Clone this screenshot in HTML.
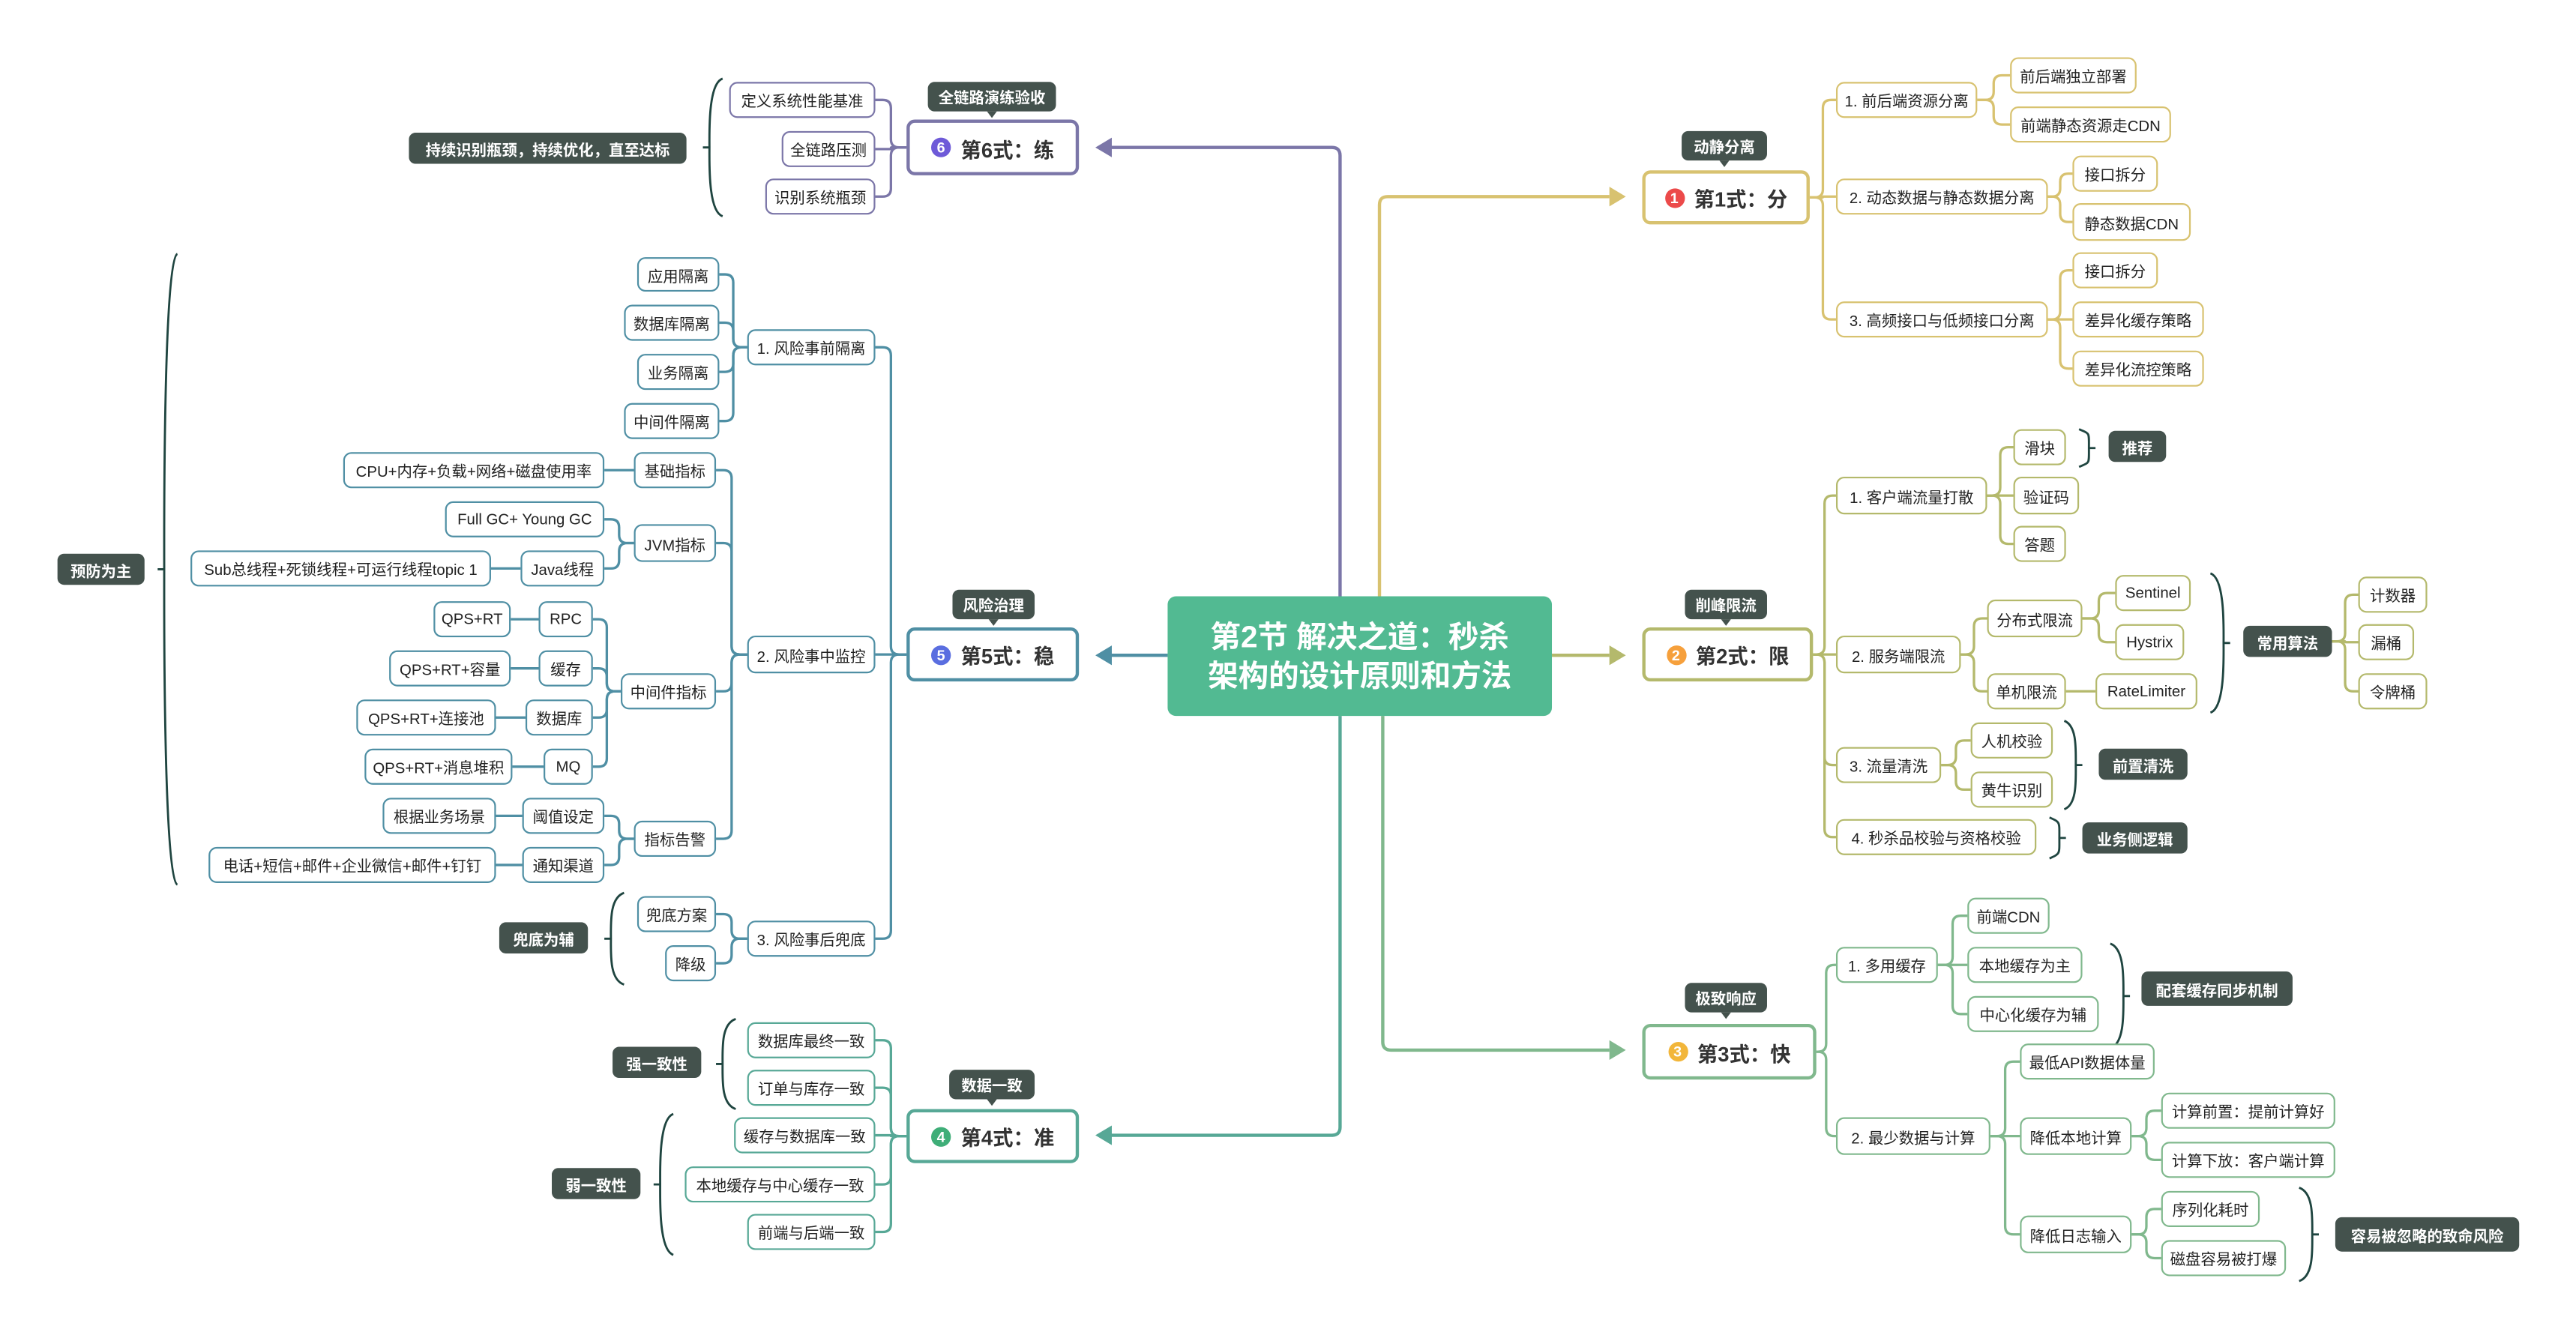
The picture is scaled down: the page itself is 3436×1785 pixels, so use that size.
<!DOCTYPE html>
<html><head><meta charset="utf-8">
<style>
html,body{margin:0;padding:0;background:#fff;width:3436px;height:1785px;overflow:hidden}
#w{position:absolute;left:0;top:0;width:1560px;height:810px;transform:scale(2.1905,2.1855);transform-origin:0 0;font-family:"Liberation Sans","Noto Sans CJK SC",sans-serif}
svg{position:absolute;left:0;top:0}
.n{position:absolute;box-sizing:border-box;border:1.4px solid;border-radius:5px;background:#fff;display:flex;align-items:center;justify-content:center;font-size:9.3px;color:#222;white-space:nowrap}
.l{position:absolute;box-sizing:border-box;border-radius:4px;background:#44524d;color:#fff;font-weight:bold;display:flex;align-items:center;justify-content:center;font-size:9.3px;white-space:nowrap}
.b:after{content:"";position:absolute;left:50%;bottom:-4px;margin-left:-3px;border-left:3px solid transparent;border-right:3px solid transparent;border-top:4px solid #44524d}
.t{font-size:12.5px;font-weight:bold;border-width:2px;color:#333}
.ic{display:inline-block;width:12px;height:12px;border-radius:50%;color:#fff;font-size:9px;line-height:12px;text-align:center;margin-right:6px;font-weight:bold}
#c{position:absolute;left:711px;top:364px;width:234px;height:73px;background:#52ba92;border-radius:5px;color:#fff;font-weight:bold;font-size:18.5px;line-height:24px;text-align:center;display:flex;align-items:center;justify-content:center}
</style></head><body>
<div id="w">
<svg id="s" width="1560" height="810" viewBox="0 0 1560 810"></svg>
<div id="c"><div>第2节 解决之道：秒杀<br>架构的设计原则和方法</div></div>
</div>
<script>
var W=document.getElementById('w'),S=document.getElementById('s'),svg='';
var N={};
function node(id,x1,y1,x2,y2,t,col,p,cls){N[id]={x1:x1,y1:y1,x2:x2,y2:y2,c:col};
 var d=document.createElement('div');d.className=cls||'n';d.style.cssText='left:'+x1+'px;top:'+y1+'px;width:'+(x2-x1)+'px;height:'+(y2-y1)+'px;border-color:'+col;d.innerHTML=t;W.appendChild(d);
 if(p)link(p,id,col);}
function lab(id,x1,y1,x2,y2,t,b){N[id]={x1:x1,y1:y1,x2:x2,y2:y2};var d=document.createElement('div');d.className='l'+(b?' b':'');d.style.cssText='left:'+x1+'px;top:'+y1+'px;width:'+(x2-x1)+'px;height:'+(y2-y1)+'px';d.innerHTML=t;W.appendChild(d);}
function link(p,c,col){p=N[p];c=N[c];var ay=(p.y1+p.y2)/2,by=(c.y1+c.y2)/2,ax,bx,sx;
 if(c.x1>=p.x2){ax=p.x2;bx=c.x1;}else{ax=p.x1;bx=c.x2;}
 sx=ax+(bx-ax)/2; var dx=bx>ax?1:-1,dy=by>ay?1:-1,r=Math.min(5,Math.abs(by-ay)/2);
 var d=Math.abs(by-ay)<0.5?('M'+ax+','+ay+'H'+bx):('M'+ax+','+ay+'H'+(sx-dx*r)+'Q'+sx+','+ay+' '+sx+','+(ay+dy*r)+'V'+(by-dy*r)+'Q'+sx+','+by+' '+(sx+dx*r)+','+by+'H'+bx);
 svg+='<path d="'+d+'" fill="none" stroke="'+col+'" stroke-width="1.5"/>';}
function brace(x,y1,y2,w){var m=(y1+y2)/2;var s=w>0?1:-1;
 svg+='<path d="M'+x+','+y1+'C'+(x+w*1.1)+','+(y1+3)+' '+(x+w)+','+(m-10)+' '+(x+w)+','+m+'M'+x+','+y2+'C'+(x+w*1.1)+','+(y2-3)+' '+(x+w)+','+(m+10)+' '+(x+w)+','+m+'h'+(s*4)+'" fill="none" stroke="#1f4540" stroke-width="1.3"/>';}
function main(d,col,tip,dir){svg+='<path d="'+d+'" fill="none" stroke="'+col+'" stroke-width="2"/>';
 svg+='<path d="M'+tip+' l'+(-dir*10)+',-6 v12z" fill="'+col+'"/>';}
function topic(id,x1,y1,x2,y2,num,nc,t,col){node(id,x1,y1,x2,y2,'<span class="ic" style="background:'+nc+'">'+num+'</span>'+t,col,null,'n t');}

var G='#d8c270',O='#b4b96c',GR='#80b88d',TE='#57a896',BL='#4f8fa4',PU='#7b76a8';
main('M840,364V125Q840,120 845,120H980',G,'990,120',1);
main('M945,400H980',O,'990,400',1);
main('M842,437V636Q842,641 847,641H980',GR,'990,641',1);
main('M816,437V688Q816,693 811,693H676',TE,'667,693',-1);
main('M711,400H676',BL,'667,400',-1);
main('M816,364V95Q816,90 811,90H676',PU,'667,90',-1);

topic('A',1000,104,1102,137,'1','#ec4a4a','第1式：分',G);
topic('B',1000,383,1104,416,'2','#f6a03c','第2式：限',O);
topic('C',1000,625,1106,659,'3','#f2b63a','第3式：快',GR);
topic('D',552,677,657,710,'4','#3fae78','第4式：准',TE);
topic('E',552,383,657,416,'5','#5a6ee0','第5式：稳',BL);
topic('F',552,73,657,107,'6','#6e5ad8','第6式：练',PU);
lab('a0',1024,80,1076,98,'动静分离',1);
lab('b0',1026,360,1076,378,'削峰限流',1);
lab('c0',1026,600,1076,618,'极致响应',1);
lab('d0',578,653,630,671,'数据一致',1);
lab('e0',580,360,630,378,'风险治理',1);
lab('f0',565,50,643,68,'全链路演练验收',1);

node('a1',1118,50,1204,72,'1. 前后端资源分离',G,'A');
node('a11',1224,35,1301,57,'前后端独立部署',G,'a1');
node('a12',1224,65,1322,87,'前端静态资源走CDN',G,'a1');
node('a2',1118,109,1247,131,'2. 动态数据与静态数据分离',G,'A');
node('a21',1262,95,1314,117,'接口拆分',G,'a2');
node('a22',1262,124,1334,147,'静态数据CDN',G,'a2');
node('a3',1118,184,1247,206,'3. 高频接口与低频接口分离',G,'A');
node('a31',1262,154,1314,176,'接口拆分',G,'a3');
node('a32',1262,184,1342,206,'差异化缓存策略',G,'a3');
node('a33',1262,214,1342,236,'差异化流控策略',G,'a3');
node('b1',1118,291,1210,314,'1. 客户端流量打散',O,'B');
node('b11',1226,262,1258,284,'滑块',O,'b1');
node('b12',1226,291,1266,314,'验证码',O,'b1');
node('b13',1226,321,1258,343,'答题',O,'b1');
brace(1266,262,285,6);lab('bl1',1284,263,1319,282,'推荐');
node('b2',1118,388,1194,411,'2. 服务端限流',O,'B');
node('b21',1210,366,1268,389,'分布式限流',O,'b2');
node('b22',1210,411,1258,433,'单机限流',O,'b2');
node('b211',1288,351,1334,373,'Sentinel',O,'b21');
node('b212',1288,381,1330,403,'Hystrix',O,'b21');
node('b221',1276,411,1338,433,'RateLimiter',O,'b22');
brace(1346,350,435,8);lab('bl2',1366,382,1420,401,'常用算法');
node('bx1',1436,352,1478,374,'计数器',O,'bl2');
node('bx2',1436,381,1470,403,'漏桶',O,'bl2');
node('bx3',1436,411,1478,433,'令牌桶',O,'bl2');
node('b3',1118,456,1182,478,'3. 流量清洗',O,'B');
node('b31',1200,441,1250,463,'人机校验',O,'b3');
node('b32',1200,471,1250,493,'黄牛识别',O,'b3');
brace(1257,440,494,7);lab('bl3',1278,457,1332,476,'前置清洗');
node('b4',1118,500,1240,522,'4. 秒杀品校验与资格校验',O,'B');
brace(1248,499,524,6);lab('bl4',1268,502,1332,521,'业务侧逻辑');
node('c1',1118,578,1180,600,'1. 多用缓存',GR,'C');
node('c11',1198,548,1248,570,'前端CDN',GR,'c1');
node('c12',1198,578,1268,600,'本地缓存为主',GR,'c1');
node('c13',1198,608,1278,630,'中心化缓存为辅',GR,'c1');
brace(1285,576,640,8);lab('cl1',1304,593,1396,614,'配套缓存同步机制');
node('c2',1118,682,1212,705,'2. 最少数据与计算',GR,'C');
node('c21',1230,637,1312,659,'最低API数据体量',GR,'c2');
node('c22',1230,682,1298,705,'降低本地计算',GR,'c2');
node('c23',1230,742,1298,765,'降低日志输入',GR,'c2');
node('c221',1316,667,1422,689,'计算前置：提前计算好',GR,'c22');
node('c222',1316,697,1422,719,'计算下放：客户端计算',GR,'c22');
node('c231',1316,727,1376,749,'序列化耗时',GR,'c23');
node('c232',1316,757,1392,779,'磁盘容易被打爆',GR,'c23');
brace(1400,725,782,8);lab('cl2',1422,743,1534,764,'容易被忽略的致命风险');
node('d1',455,624,533,646,'数据库最终一致',TE,'D');
node('d2',455,653,533,675,'订单与库存一致',TE,'D');
node('d3',447,682,533,704,'缓存与数据库一致',TE,'D');
node('d4',417,712,533,734,'本地缓存与中心缓存一致',TE,'D');
node('d5',455,741,533,763,'前端与后端一致',TE,'D');
brace(448,622,677,-8);lab('dl1',373,639,427,658,'强一致性');
brace(410,680,766,-8);lab('dl2',336,713,390,732,'弱一致性');
node('e1',455,201,533,223,'1. 风险事前隔离',BL,'E');
node('e11',388,157,438,178,'应用隔离',BL,'e1');
node('e12',380,186,438,208,'数据库隔离',BL,'e1');
node('e13',388,216,438,238,'业务隔离',BL,'e1');
node('e14',380,246,438,268,'中间件隔离',BL,'e1');
node('e2',455,388,533,411,'2. 风险事中监控',BL,'E');
node('e21',386,276,436,298,'基础指标',BL,'e2');
node('e22',386,320,436,343,'JVM指标',BL,'e2');
node('e23',378,411,436,433,'中间件指标',BL,'e2');
node('e24',386,501,436,523,'指标告警',BL,'e2');
node('e211',209,276,368,298,'CPU+内存+负载+网络+磁盘使用率',BL,'e21');
node('e221',271,306,368,328,'Full GC+ Young GC',BL,'e22');
node('e222',317,336,368,358,'Java线程',BL,'e22');
node('e2221',116,336,299,358,'Sub总线程+死锁线程+可运行线程topic 1',BL,'e222');
node('e231',328,367,361,389,'RPC',BL,'e23');
node('e232',328,397,361,419,'缓存',BL,'e23');
node('e233',320,427,361,449,'数据库',BL,'e23');
node('e234',331,457,361,479,'MQ',BL,'e23');
node('e2311',264,367,311,389,'QPS+RT',BL,'e231');
node('e2321',237,397,311,419,'QPS+RT+容量',BL,'e232');
node('e2331',217,427,302,449,'QPS+RT+连接池',BL,'e233');
node('e2341',222,457,312,479,'QPS+RT+消息堆积',BL,'e234');
node('e241',318,487,368,509,'阈值设定',BL,'e24');
node('e242',318,517,368,539,'通知渠道',BL,'e24');
node('e2411',233,487,302,509,'根据业务场景',BL,'e241');
node('e2421',127,517,302,539,'电话+短信+邮件+企业微信+邮件+钉钉',BL,'e242');
node('e3',455,562,533,584,'3. 风险事后兜底',BL,'E');
node('e31',388,547,436,569,'兜底方案',BL,'e3');
node('e32',405,577,436,599,'降级',BL,'e3');
brace(380,545,601,-8);lab('el1',304,563,358,582,'兜底为辅');
brace(108,155,540,-8);lab('el2',35,338,88,357,'预防为主');
node('f1',444,50,533,72,'定义系统性能基准',PU,'F');
node('f2',476,80,533,102,'全链路压测',PU,'F');
node('f3',466,109,533,131,'识别系统瓶颈',PU,'F');
brace(440,48,132,-8);lab('fl1',249,81,418,100,'持续识别瓶颈，持续优化，直至达标');
S.innerHTML=svg;
</script>
</body></html>
